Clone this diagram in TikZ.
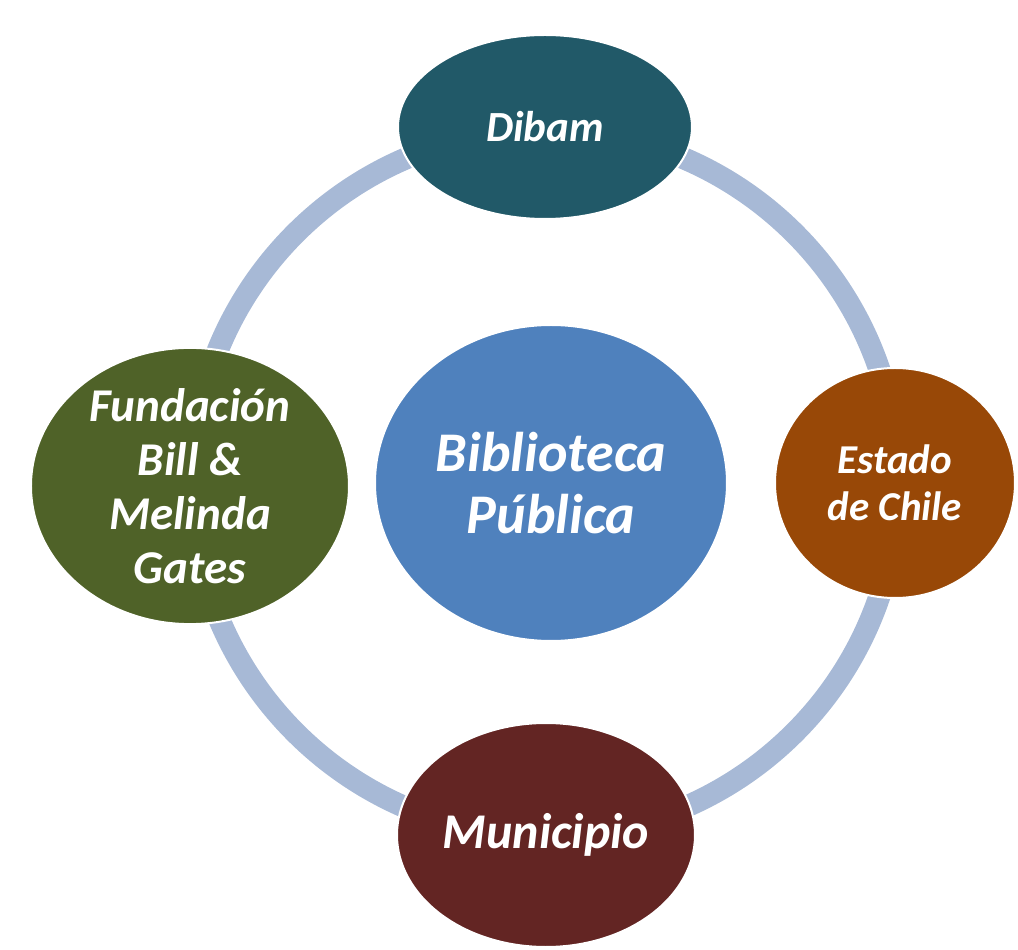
\documentclass[tikz,border=0pt]{standalone}
\usepackage{fontspec}
\setmainfont{Carlito}
\usepackage{tikz}
\usetikzlibrary{shapes.geometric, positioning, calc}

\definecolor{ringblue}{RGB}{167,185,214}
\definecolor{bibblue}{RGB}{79,129,189}
\definecolor{dibamteal}{RGB}{33,89,104}
\definecolor{fundgreen}{RGB}{79,98,40}
\definecolor{chilebrown}{RGB}{152,72,7}
\definecolor{munired}{RGB}{99,37,35}

\begin{document}
\begin{tikzpicture}[x=1pt, y=1pt,
    org/.style={ellipse, draw=white, line width=2pt, inner sep=0pt,
                text=white, align=center}]
            % picture frame (pixel units of the reference)
            \useasboundingbox (-545,-467) rectangle (473,483);

            %--- ring behind everything
            \coordinate (O) at (0,0);
            \draw[ringblue, line width=22pt] (O) circle[radius=353];

            %--- centre node
            \node (bib) [org, fill=bibblue, minimum width=352pt, minimum height=316pt,
                font={\fontsize{56}{62}\selectfont\bfseries\itshape}]
                at (6,0) {Biblioteca\\Pública};

            %--- partners round the ring
            \node (dibam) [org, fill=dibamteal, minimum width=294pt, minimum height=184pt,
                font={\fontsize{43}{48}\selectfont\bfseries\itshape}]
                at (0,356) {Dibam};
            \node (fund) [org, fill=fundgreen, minimum width=318pt, minimum height=256pt,
                font={\fontsize{47}{54}\selectfont\bfseries\itshape}]
                at (-355,-3) {Fundación\\Bill \&\\Melinda\\Gates};
            \node (chile) [org, fill=chilebrown, minimum width=240pt, minimum height=230pt,
                font={\fontsize{41}{47}\selectfont\bfseries\itshape}]
                at (350,0) {Estado\\de Chile};
            \node (muni) [org, fill=munired, minimum width=298pt, minimum height=224pt,
                font={\fontsize{50}{56}\selectfont\bfseries\itshape}]
                at (1,-352) {Municipio};
\end{tikzpicture}
\end{document}
